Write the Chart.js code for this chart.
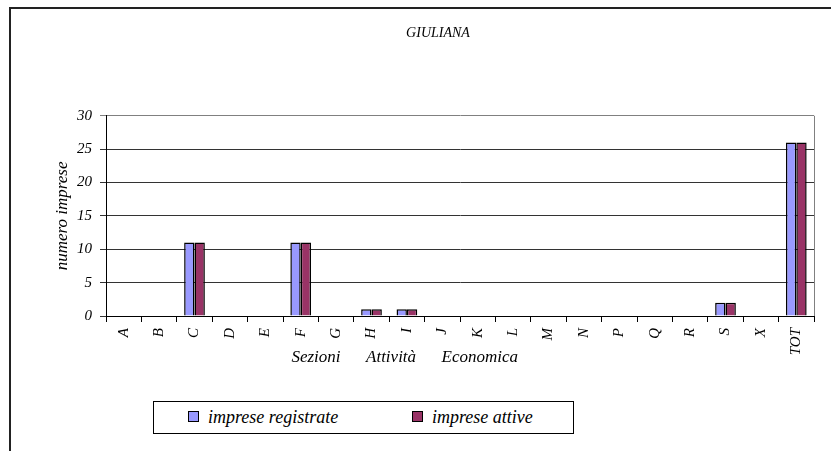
<!DOCTYPE html>
<html>
<head>
<meta charset="utf-8">
<script src="https://cdn.jsdelivr.net/npm/chart.js@4/dist/chart.umd.min.js"></script>
<style>
  body { margin: 0; background: #fff; }
  #frame { position: absolute; left: 9px; top: 7px; width: 840px; height: 460px; border: 2px solid #222; }
  #wrap { position: absolute; left: 0; top: 0; width: 831px; height: 451px; }
  #legend {
    position: absolute; left: 153px; top: 401px; width: 419px; height: 31px;
    border: 1px solid #000; background: #fff;
    font-family: "Liberation Serif", serif; font-style: italic; font-size: 18px;
  }
  #legend span.item { position: absolute; top: 5px; white-space: nowrap; }
  #legend i.box { display: inline-block; width: 9px; height: 9px; border: 1.5px solid #000; margin-right: 9px; vertical-align: 1px; }
</style>
</head>
<body>
<div id="frame"></div>
<div id="wrap"><canvas id="chart" width="831" height="451"></canvas></div>
<div id="legend"></div>
<script>
var categories = ['A', 'B', 'C', 'D', 'E', 'F', 'G', 'H', 'I', 'J', 'K', 'L', 'M', 'N', 'P', 'Q', 'R', 'S', 'X', 'TOT'];
var impreseRegistrate = [0, 0, 11, 0, 0, 11, 0, 1, 1, 0, 0, 0, 0, 0, 0, 0, 0, 2, 0, 26];
var impreseAttive = [0, 0, 11, 0, 0, 11, 0, 1, 1, 0, 0, 0, 0, 0, 0, 0, 0, 2, 0, 26];
var yTicks = [0, 5, 10, 15, 20, 25, 30];

var serif = '"Liberation Serif", "Times New Roman", serif';

// bordo destro grigio dell'area del grafico
var plotBorder = {
    id: 'plotBorder',
    afterDraw: function (chart) {
        var a = chart.chartArea, ctx = chart.ctx;
        ctx.save();
        ctx.strokeStyle = '#808080';
        ctx.lineWidth = 1;
        ctx.beginPath();
        ctx.moveTo(Math.round(a.right) + 0.5, a.top);
        ctx.lineTo(Math.round(a.right) + 0.5, a.bottom);
        ctx.stroke();
        ctx.restore();
    }
};

var ctx = document.getElementById('chart').getContext('2d');
var chart = new Chart(ctx, {
    type: 'bar',
    data: {
        labels: categories,
        datasets: [
            {
                label: 'imprese registrate',
                data: impreseRegistrate,
                backgroundColor: '#9999FF',
                borderColor: '#000',
                borderWidth: 1.5
            },
            {
                label: 'imprese attive',
                data: impreseAttive,
                backgroundColor: '#993366',
                borderColor: '#000',
                borderWidth: 1.5
            }
        ]
    },
    options: {
        responsive: false,
        animation: false,
        layout: { padding: { left: 62, right: 17, top: 0, bottom: 71 } },
        datasets: { bar: { categoryPercentage: 0.585, barPercentage: 1.0 } },
        plugins: {
            legend: { display: false },
            tooltip: { enabled: false },
            title: {
                display: true,
                text: 'GIULIANA',
                color: '#000',
                font: { family: serif, size: 14, style: 'italic', weight: 'normal' },
                padding: { top: 25, bottom: 74 }
            }
        },
        scales: {
            x: {
                afterFit: function (s) { s.height = 64; },
                grid: { drawOnChartArea: false, drawTicks: true, tickLength: 6, color: '#000' },
                border: { color: '#000', width: 1 },
                ticks: {
                    minRotation: 90, maxRotation: 90, color: '#000', padding: 6,
                    font: { family: serif, size: 15, style: 'italic' }
                },
                title: {
                    display: true,
                    text: 'Sezioni' + '\u00a0'.repeat(6) + 'Attività' + '\u00a0'.repeat(6) + 'Economica' + '\u00a0'.repeat(26),
                    color: '#000',
                    font: { family: serif, size: 17, style: 'italic' },
                    padding: { top: 0, bottom: 12 }
                }
            },
            y: {
                min: 0, max: 30,
                afterFit: function (s) { s.width = 44; },
                afterBuildTicks: function (s) { s.ticks = yTicks.map(function (v) { return { value: v }; }); },
                grid: {
                    tickLength: 6,
                    color: function (c) { return c.tick && c.tick.value === 30 ? '#808080' : '#333'; }
                },
                border: { color: '#000', width: 1 },
                ticks: {
                    color: '#000', padding: 8,
                    font: { family: serif, size: 15, style: 'italic' }
                },
                title: {
                    display: true,
                    text: 'numero imprese',
                    color: '#000',
                    font: { family: serif, size: 17, style: 'italic' },
                    padding: { top: -10, bottom: 0 }
                }
            }
        }
    },
    plugins: [plotBorder]
});

// legenda in HTML costruita dai dataset
var legend = document.getElementById('legend');
var lefts = [34, 258];
chart.data.datasets.forEach(function (ds, i) {
    var item = document.createElement('span');
    item.className = 'item';
    item.style.left = lefts[i] + 'px';
    item.innerHTML = '<i class="box" style="background:' + ds.backgroundColor + '"></i>' + ds.label;
    legend.appendChild(item);
});
</script>
</body>
</html>
